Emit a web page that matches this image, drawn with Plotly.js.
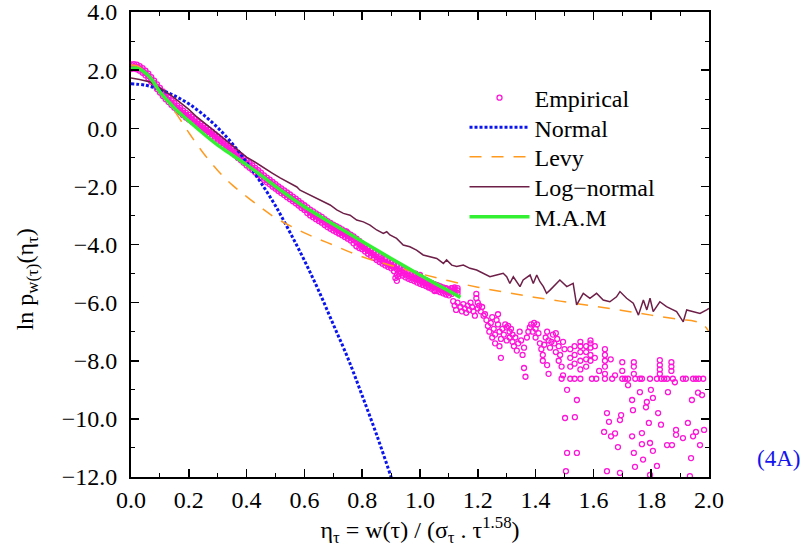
<!DOCTYPE html>
<html><head><meta charset="utf-8">
<script src="https://cdn.plot.ly/plotly-3.0.1.min.js"></script>
<style>html,body{margin:0;padding:0;background:#fff}#chart{width:807px;height:557px}</style>
</head><body><div id="chart"></div>
<script>
// ---------- Data ----------
const bandX = [0.00,0.01,0.02,0.03,0.04,0.05,0.06,0.07,0.08,0.09,0.10,0.11,0.12,0.13,0.14,0.15,0.16,0.17,0.18,0.19,0.20,0.21,0.22,0.23,0.24,0.25,0.26,0.27,0.28,0.29,0.30,0.31,0.32,0.33,0.34,0.35,0.36,0.37,0.38,0.39,0.40,0.41,0.42,0.43,0.44,0.45,0.46,0.47,0.48,0.49,0.50,0.51,0.52,0.53,0.54,0.55,0.56,0.57,0.58,0.59,0.60,0.61,0.62,0.63,0.64,0.65,0.66,0.67,0.68,0.69,0.70,0.71,0.72,0.73,0.74,0.75,0.76,0.77,0.78,0.79,0.80,0.81,0.82,0.83,0.84,0.85,0.86,0.87,0.88,0.89,0.90,0.91,0.92,0.93,0.94,0.95,0.96,0.97,0.98,0.99,1.00,1.01,1.02,1.03,1.04,1.05,1.06,1.07,1.08,1.09,1.10,1.11,1.12,1.13];
const bandMid = [2.12,2.13,2.11,2.06,1.99,1.90,1.80,1.68,1.56,1.43,1.31,1.19,1.08,0.98,0.88,0.79,0.70,0.62,0.53,0.45,0.38,0.31,0.24,0.16,0.08,0.01,-0.06,-0.13,-0.20,-0.28,-0.36,-0.44,-0.52,-0.60,-0.68,-0.77,-0.85,-0.94,-1.02,-1.11,-1.20,-1.28,-1.36,-1.44,-1.52,-1.61,-1.70,-1.78,-1.85,-1.93,-2.00,-2.08,-2.15,-2.22,-2.29,-2.36,-2.43,-2.50,-2.58,-2.66,-2.73,-2.82,-2.90,-2.96,-3.03,-3.09,-3.15,-3.23,-3.30,-3.36,-3.42,-3.47,-3.52,-3.58,-3.64,-3.70,-3.76,-3.84,-3.92,-3.99,-4.06,-4.14,-4.22,-4.29,-4.36,-4.43,-4.50,-4.56,-4.62,-4.67,-4.72,-4.79,-4.85,-4.91,-4.97,-5.03,-5.08,-5.12,-5.16,-5.21,-5.25,-5.29,-5.33,-5.38,-5.42,-5.46,-5.50,-5.54,-5.58,-5.62,-5.65,-5.60,-5.55,-5.58];
const bandUpper = [2.20,2.21,2.19,2.14,2.07,1.98,1.88,1.76,1.64,1.51,1.39,1.27,1.16,1.06,0.96,0.87,0.78,0.70,0.61,0.53,0.46,0.39,0.32,0.24,0.16,0.09,0.02,-0.05,-0.12,-0.20,-0.28,-0.36,-0.44,-0.52,-0.60,-0.69,-0.77,-0.86,-0.94,-1.03,-1.12,-1.20,-1.28,-1.36,-1.44,-1.53,-1.62,-1.70,-1.77,-1.85,-1.92,-2.00,-2.07,-2.14,-2.21,-2.28,-2.35,-2.42,-2.50,-2.58,-2.65,-2.72,-2.80,-2.86,-2.93,-2.99,-3.05,-3.13,-3.20,-3.26,-3.32,-3.37,-3.42,-3.48,-3.54,-3.60,-3.66,-3.72,-3.80,-3.88,-3.96,-4.04,-4.12,-4.19,-4.26,-4.33,-4.40,-4.46,-4.50,-4.57,-4.62,-4.68,-4.74,-4.81,-4.87,-4.92,-4.97,-5.02,-5.06,-5.10,-5.15,-5.19,-5.23,-5.28,-5.32,-5.36,-5.40,-5.44,-5.48,-5.52,-5.55,-5.50,-5.48,-5.50];
const bandLower = [2.04,2.05,2.03,1.98,1.91,1.82,1.72,1.60,1.48,1.35,1.23,1.11,1.00,0.90,0.80,0.71,0.62,0.54,0.45,0.37,0.30,0.23,0.16,0.08,0.00,-0.07,-0.14,-0.21,-0.28,-0.36,-0.44,-0.52,-0.60,-0.68,-0.76,-0.85,-0.93,-1.02,-1.10,-1.19,-1.28,-1.36,-1.44,-1.52,-1.60,-1.69,-1.78,-1.86,-1.93,-2.01,-2.08,-2.16,-2.23,-2.30,-2.37,-2.44,-2.51,-2.58,-2.66,-2.74,-2.81,-2.92,-3.00,-3.06,-3.13,-3.19,-3.25,-3.33,-3.40,-3.46,-3.52,-3.57,-3.62,-3.68,-3.74,-3.80,-3.86,-3.96,-4.06,-4.12,-4.16,-4.24,-4.32,-4.39,-4.46,-4.53,-4.60,-4.66,-4.72,-4.77,-4.82,-4.92,-5.05,-5.01,-5.07,-5.13,-5.18,-5.22,-5.26,-5.31,-5.35,-5.39,-5.43,-5.48,-5.52,-5.56,-5.60,-5.64,-5.68,-5.72,-5.75,-5.70,-5.65,-5.68];
const outlierX = [0.72,0.745,0.88,0.915,0.92,0.925,0.985,1.00,1.03,1.05,1.07,1.09,1.11];
const outlierY = [-3.62,-3.55,-4.45,-5.15,-5.25,-5.10,-5.00,-5.05,-5.45,-5.60,-5.45,-5.50,-5.50];
const tailX = [1.115,1.12,1.125,1.13,1.14,1.145,1.15,1.155,1.16,1.165,1.17,1.175,1.18,1.185,1.19,1.195,1.195,1.20,1.20,1.205,1.21,1.215,1.22,1.225,1.23,1.235,1.24,1.245,1.25,1.25,1.255,1.26,1.26,1.265,1.27,1.27,1.275,1.275,1.28,1.28,1.285,1.29,1.295,1.30,1.30,1.305,1.31,1.31,1.315,1.32,1.32,1.325,1.33,1.335,1.34,1.345,1.35,1.355,1.36,1.365,1.36,1.37,1.375,1.38,1.385,1.39,1.395,1.40,1.40,1.405,1.41,1.415,1.42,1.425,1.425,1.43,1.435,1.44,1.445,1.44,1.445,1.45,1.455,1.46,1.465,1.47,1.47,1.475,1.48,1.48,1.485,1.49,1.495,1.495,1.50,1.49,1.509,1.502,1.509,1.505,1.52,1.52,1.52,1.52,1.535,1.535,1.535,1.535,1.536,1.543,1.543,1.555,1.555,1.555,1.555,1.555,1.555,1.575,1.575,1.575,1.575,1.59,1.59,1.59,1.59,1.59,1.595,1.605,1.605,1.61,1.62,1.637,1.64,1.64,1.64,1.64,1.64,1.64,1.647,1.647,1.654,1.661,1.66,1.665,1.675,1.675,1.685,1.692,1.696,1.692,1.70,1.70,1.70,1.71,1.72,1.72,1.734,1.734,1.737,1.74,1.744,1.74,1.74,1.74,1.745,1.761,1.761,1.768,1.768,1.768,1.772,1.782,1.785,1.792,1.796,1.796,1.799,1.796,1.806,1.806,1.82,1.82,1.824,1.83,1.83,1.83,1.83,1.834,1.835,1.845,1.855,1.855,1.858,1.872,1.87,1.87,1.87,1.875,1.882,1.886,1.886,1.91,1.91,1.92,1.927,1.934,1.938,1.941,1.945,1.945,1.955,1.955,1.962,1.965,1.969,1.976,1.98,1.983];
const tailY = [-5.95,-6.10,-6.25,-6.00,-6.15,-6.30,-6.05,-6.20,-6.35,-6.10,-6.25,-6.00,-6.15,-6.30,-6.45,-5.70,-5.85,-6.00,-6.20,-6.10,-6.30,-6.15,-6.45,-6.40,-6.60,-6.80,-7.00,-6.70,-6.50,-7.20,-6.90,-7.10,-7.40,-6.60,-6.40,-6.75,-7.00,-7.50,-7.25,-7.90,-6.90,-7.10,-6.75,-6.85,-7.30,-6.80,-7.00,-7.20,-6.90,-7.10,-7.35,-7.50,-7.20,-7.65,-7.40,-7.00,-7.30,-7.80,-8.25,-8.55,-7.55,-7.20,-7.00,-6.85,-6.75,-7.00,-6.70,-6.90,-7.20,-6.75,-7.05,-7.40,-7.60,-7.80,-8.00,-7.45,-7.20,-7.00,-7.30,-8.15,-8.45,-7.55,-7.35,-7.10,-7.40,-7.05,-7.70,-7.25,-7.50,-8.00,-7.80,-8.20,-8.50,-7.35,-7.60,-8.62,-9.00,-9.97,-11.17,-11.80,-7.60,-7.90,-8.20,-8.62,-7.50,-7.80,-8.10,-8.62,-9.94,-9.35,-11.17,-7.35,-7.50,-7.70,-8.00,-8.30,-8.62,-7.50,-7.70,-7.95,-8.20,-7.30,-7.40,-7.55,-7.80,-8.00,-8.62,-7.50,-7.90,-8.62,-8.35,-10.45,-7.60,-7.80,-8.00,-8.20,-8.45,-8.62,-9.80,-11.80,-10.10,-10.60,-7.95,-8.62,-10.50,-8.50,-10.97,-10.04,-9.87,-11.86,-8.05,-8.35,-8.62,-8.62,-8.84,-8.62,-9.35,-10.60,-9.70,-11.17,-11.65,-8.05,-8.20,-8.45,-8.62,-9.08,-8.62,-8.62,-10.49,-10.87,-11.40,-9.60,-9.42,-10.14,-10.83,-8.62,-9.00,-11.93,-9.28,-11.10,-11.62,-8.62,-9.80,-7.98,-8.15,-8.30,-8.45,-10.20,-8.62,-8.62,-8.62,-10.90,-9.08,-10.90,-8.05,-8.20,-8.35,-8.62,-8.74,-10.38,-10.55,-10.66,-8.62,-8.62,-10.14,-11.97,-11.35,-9.35,-10.60,-8.62,-10.45,-8.62,-9.10,-8.62,-10.90,-9.18,-8.62,-10.38];

const normalX = [0.00,0.05,0.10,0.15,0.20,0.25,0.30,0.35,0.40,0.45,0.50,0.55,0.60,0.65,0.70,0.75,0.80,0.85,0.90,0.92];
const normalY = [1.53,1.48,1.33,1.12,0.84,0.47,0.02,-0.52,-1.17,-1.88,-2.67,-3.58,-4.55,-5.60,-6.75,-7.90,-9.20,-10.55,-12.00,-12.60];

const levyX = [0.00,0.02,0.04,0.06,0.08,0.10,0.12,0.15,0.20,0.25,0.30,0.35,0.40,0.45,0.50,0.60,0.70,0.80,0.90,1.00,1.10,1.20,1.30,1.40,1.50,1.60,1.70,1.80,1.90,1.95,1.98,2.00];
const levyY = [2.18,2.15,2.02,1.80,1.55,1.28,1.00,0.60,-0.15,-0.85,-1.45,-1.95,-2.35,-2.73,-3.08,-3.60,-4.02,-4.42,-4.72,-5.00,-5.25,-5.47,-5.65,-5.82,-5.97,-6.12,-6.27,-6.43,-6.58,-6.64,-6.76,-7.00];

const lognX = [0.00,0.03,0.066,0.09,0.11,0.14,0.17,0.20,0.228,0.256,0.284,0.31,0.343,0.37,0.40,0.43,0.457,0.49,0.516,0.545,0.574,0.585,0.619,0.654,0.689,0.712,0.735,0.758,0.781,0.804,0.827,0.85,0.873,0.885,0.896,0.919,0.942,0.965,0.988,1.011,1.035,1.058,1.081,1.092,1.110,1.127,1.150,1.173,1.196,1.219,1.242,1.265,1.288,1.300,1.311,1.323,1.335,1.346,1.357,1.381,1.392,1.404,1.415,1.427,1.438,1.450,1.484,1.508,1.530,1.542,1.565,1.588,1.611,1.634,1.657,1.680,1.692,1.715,1.738,1.756,1.773,1.785,1.796,1.807,1.830,1.853,1.888,1.911,1.923,1.946,1.969,1.992,2.000];
const lognY = [1.73,1.68,1.59,1.45,1.32,1.12,0.90,0.65,0.39,0.17,-0.06,-0.27,-0.51,-0.74,-0.99,-1.17,-1.33,-1.55,-1.71,-1.88,-2.02,-2.13,-2.30,-2.47,-2.64,-2.81,-2.93,-2.99,-3.16,-3.22,-3.33,-3.50,-3.62,-3.56,-3.67,-3.79,-4.02,-4.08,-4.19,-4.36,-4.42,-4.48,-4.65,-4.53,-4.71,-4.76,-4.71,-4.82,-4.88,-4.99,-5.11,-5.05,-4.99,-5.11,-5.34,-5.11,-5.28,-5.45,-5.22,-5.05,-5.34,-5.05,-5.28,-5.45,-5.68,-5.57,-5.22,-5.45,-5.34,-6.08,-5.68,-5.85,-5.68,-5.91,-5.97,-5.80,-5.62,-5.85,-6.02,-6.43,-5.91,-6.25,-5.85,-6.31,-5.97,-6.14,-6.31,-6.66,-6.25,-6.31,-6.37,-6.25,-6.20];

const mamX = [0.00,0.02,0.04,0.07,0.10,0.15,0.20,0.25,0.30,0.35,0.40,0.45,0.50,0.55,0.60,0.70,0.80,0.90,1.00,1.10,1.14];
const mamY = [2.06,2.07,1.98,1.70,1.25,0.70,0.25,-0.18,-0.58,-0.92,-1.26,-1.62,-2.00,-2.36,-2.70,-3.30,-3.90,-4.48,-5.05,-5.60,-5.82];

const xTickVals = [0.0,0.2,0.4,0.6,0.8,1.0,1.2,1.4,1.6,1.8,2.0];
const yTickVals = [-12,-10,-8,-6,-4,-2,0,2,4];
const seriesNames = ['Empirical','Normal','Levy','Log\u2212normal','M.A.M'];

// ---------- Build ----------
const empX = bandX.concat(bandX, bandX, outlierX, tailX);
const empY = bandMid.concat(bandUpper, bandLower, outlierY, tailY);
const FONT = '"Liberation Serif", serif';

const traces = [
  {x: empX, y: empY, name: seriesNames[0], type: 'scatter', mode: 'markers', legend: 'legend',
   marker: {symbol: 'circle-open', size: 5, color: '#ff14d8', line: {width: 1.3, color: '#ff14d8'}}},
  {x: normalX, y: normalY, name: seriesNames[1], type: 'scatter', mode: 'lines', legend: 'legend2',
   line: {color: '#0a14f0', width: 3, dash: '3px,2px', shape: 'spline'}},
  {x: levyX, y: levyY, name: seriesNames[2], type: 'scatter', mode: 'lines', legend: 'legend3',
   line: {color: '#ff9a1f', width: 1.5, dash: '12px,10px', shape: 'spline'}},
  {x: lognX, y: lognY, name: seriesNames[3], type: 'scatter', mode: 'lines', legend: 'legend4',
   line: {color: '#6e1f48', width: 1.5}},
  {x: mamX, y: mamY, name: seriesNames[4], type: 'scatter', mode: 'lines', legend: 'legend5',
   line: {color: '#33f033', width: 3.5, shape: 'spline'}}
];

const axisCommon = {
  showgrid: false, zeroline: false, showline: true, linecolor: '#000', linewidth: 2,
  mirror: 'ticks', ticks: 'inside', ticklen: 8, tickwidth: 1.5, tickcolor: '#000',
  tickfont: {family: FONT, size: 24, color: '#000'}, tickformat: '.1f', ticklabeloverflow: 'allow'
};

function legendBox(y) {
  return {x: 0.577, y: y, xanchor: 'left', yanchor: 'top', bgcolor: 'rgba(0,0,0,0)',
          font: {family: FONT, size: 24, color: '#000'}, itemwidth: 60};
}

const layout = {
  width: 807, height: 557,
  margin: {l: 131, r: 98, t: 12, b: 80},
  paper_bgcolor: '#fff', plot_bgcolor: '#fff',
  font: {family: FONT, size: 24, color: '#000'},
  showlegend: true,
  legend: legendBox(0.8632),
  legend2: legendBox(0.7998),
  legend3: legendBox(0.7363),
  legend4: legendBox(0.6718),
  legend5: legendBox(0.6073),
  xaxis: Object.assign({}, axisCommon, {
    range: [0, 2.0001], tickvals: xTickVals, ticklabelstandoff: 0,
    minor: {dtick: 0.1, ticks: 'inside', ticklen: 4, tickwidth: 1, tickcolor: '#000'},
    title: {text: '\u03b7<sub>\u03c4</sub> = w(\u03c4) / (\u03c3<sub>\u03c4</sub> . \u03c4<sup>1.58</sup>)',
            font: {family: FONT, size: 24, color: '#000'}, standoff: 0}
  }),
  yaxis: Object.assign({}, axisCommon, {
    range: [-12, 4.0005], tickvals: yTickVals, ticklabelstandoff: 7,
    minor: {dtick: 1, ticks: 'inside', ticklen: 4, tickwidth: 1, tickcolor: '#000'}
  }),
  annotations: [
    {xref: 'paper', yref: 'paper', x: -0.18, y: 0.425, xanchor: 'center', yanchor: 'middle',
     textangle: -90, showarrow: false,
     text: 'ln p<sub>w(\u03c4)</sub>(\u03b7<sub>\u03c4</sub>)',
     font: {family: FONT, size: 24, color: '#000'}},
    {xref: 'paper', yref: 'paper', x: 1.161, y: 0.04, xanchor: 'right', yanchor: 'middle',
     showarrow: false, text: '(4A)', font: {family: FONT, size: 23, color: '#1414ee'}}
  ]
};

Plotly.newPlot('chart', traces, layout, {displayModeBar: false, staticPlot: true});
</script></body></html>
